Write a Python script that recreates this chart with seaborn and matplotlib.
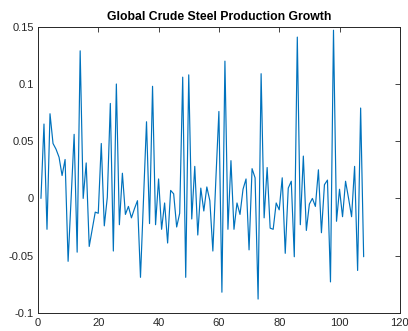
import numpy as np
import pandas as pd
import matplotlib
matplotlib.use("Agg")
import matplotlib.pyplot as plt
import seaborn as sns

# Month-on-month growth rate of global crude steel output
growth = [
    0.000, 0.065, -0.027, 0.074, 0.048, 0.043, 0.036, 0.020, 0.034, -0.055,
    0.000, 0.056, -0.047, 0.129, 0.000, 0.031, -0.042, -0.027, -0.012, -0.013,
    0.048, -0.024, 0.001, 0.083, -0.046, 0.100, -0.023, 0.022, -0.014, -0.007,
    -0.017, -0.009, -0.002, -0.069, -0.001, 0.067, -0.022, 0.098, -0.023, 0.017,
    -0.027, -0.004, -0.039, 0.007, 0.004, -0.025, -0.013, 0.106, -0.069, 0.108,
    -0.018, 0.028, -0.032, 0.009, -0.011, 0.010, -0.002, -0.046, 0.017, 0.076,
    -0.082, 0.120, -0.027, 0.033, -0.027, -0.004, -0.014, 0.008, 0.017, -0.045,
    0.026, 0.018, -0.088, 0.109, -0.017, 0.027, -0.026, -0.027, -0.004, -0.010,
    0.018, -0.048, 0.009, 0.015, -0.051, 0.141, -0.023, 0.037, -0.028, -0.005,
    0.000, -0.007, 0.025, -0.030, 0.012, 0.016, -0.073, 0.147, -0.020, 0.008,
    -0.016, 0.015, 0.000, -0.016, 0.028, -0.063, 0.079, -0.051,
]
period = list(range(1, len(growth) + 1))

x_ticks = [0, 20, 40, 60, 80, 100, 120]
y_ticks = [-0.1, -0.05, 0, 0.05, 0.1, 0.15]
y_tick_labels = ["-0.1", "-0.05", "0", "0.05", "0.1", "0.15"]
title = "Global Crude Steel Production Growth"

df = pd.DataFrame({"period": period, "growth": growth})

sns.set_theme(style="white")
plt.rcParams["font.family"] = ["Liberation Sans", "DejaVu Sans"]

edge = "#262626"
fig = plt.figure(figsize=(4.08, 3.31), dpi=100)
ax = fig.add_axes([0.093, 0.055, 0.887, 0.864])

sns.lineplot(data=df, x="period", y="growth", ax=ax, color="#0072BD",
             linewidth=0.85, estimator=None)

ax.set_xlim(0, 120)
ax.set_ylim(-0.1, 0.15)
ax.set_xticks(x_ticks)
ax.set_xticklabels([str(t) for t in x_ticks])
ax.set_yticks(y_ticks)
ax.set_yticklabels(y_tick_labels)
ax.set_xlabel("")
ax.set_ylabel("")

ax.tick_params(axis="both", direction="in", length=3.5, width=0.6,
               colors=edge, labelsize=8.0, top=True, right=True,
               labeltop=False, labelright=False, pad=3)
ax.tick_params(axis="x", pad=4)
for side in ax.spines.values():
    side.set_visible(True)
    side.set_color(edge)
    side.set_linewidth(0.7)

ax.set_title(title, fontsize=8.8, fontweight="bold", color="black", pad=5)

fig.savefig("out.png", dpi=100, facecolor="white")
